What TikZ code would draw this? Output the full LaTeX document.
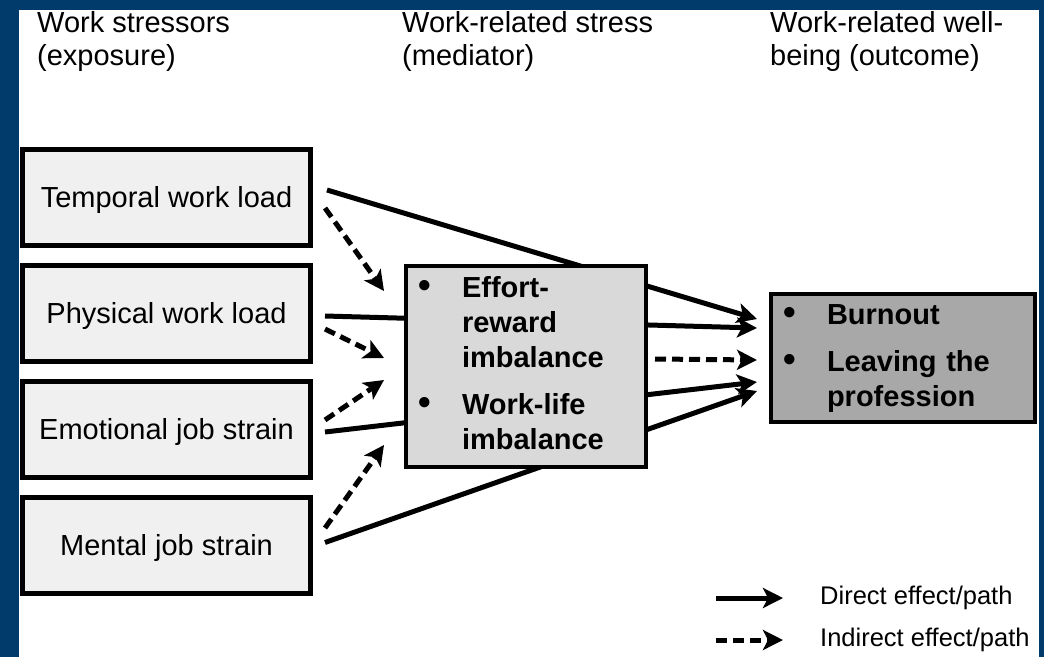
\documentclass[tikz,border=0pt]{standalone}
\usepackage{fontspec}
\setmainfont{Liberation Sans}
\usetikzlibrary{arrows.meta,positioning,calc}

\definecolor{framecolor}{rgb}{0.003922, 0.231373, 0.419608}
\definecolor{inputfill}{rgb}{0.941176, 0.941176, 0.941176}
\definecolor{stressfill}{rgb}{0.850980, 0.850980, 0.850980}
\definecolor{outcomefill}{rgb}{0.658824, 0.658824, 0.658824}

\tikzset{
  every node/.style={font=\fontsize{29}{33}\selectfont},
  heading/.style={anchor=north west, align=left, inner sep=0pt},
  stressor/.style={draw=black, fill=inputfill, line width=5pt,
    minimum width=288pt, minimum height=96pt, inner sep=0pt,
    text height=21pt, text depth=0pt},
  listbox/.style={draw=black, line width=4pt, inner xsep=12pt, inner ysep=0pt,
    align=left, font=\fontsize{29}{35}\selectfont\bfseries},
  direct/.style={line width=5pt, -{Stealth[length=20pt,width=20pt,inset=5pt]}},
  indirect/.style={direct, dash pattern=on 11pt off 6pt},
  legendtext/.style={anchor=west, inner sep=0pt, font=\fontsize{25.5}{30}\selectfont},
}
\newcommand{\itembullet}{{\fontsize{36}{35}\selectfont\textbullet}}

\begin{document}
\begin{tikzpicture}[x=1pt, y=-1pt]
\useasboundingbox (0,0) rectangle (1044,657);
\fill[framecolor] (0,0) rectangle (1044,657);
\fill[white] (19,10) rectangle (1039,657);

% column headings
\node[heading] (hexpo) at (37,11) {Work stressors\\(exposure)};
\node[heading] (hmedi) at (402,11) {Work-related stress\\(mediator)};
\node[heading] (houtc) at (770,11) {Work-related well-\\being (outcome)};

% exposures
\node[stressor] (temporal) at (166.5,197) {Temporal work load};
\node[stressor, below=15pt of temporal] (physical) {Physical work load};
\node[stressor, below=15pt of physical] (emotional) {Emotional job strain};
\node[stressor, below=15pt of emotional] (mental) {Mental job strain};

% outcome
\node[listbox, fill=outcomefill, text width=240pt, minimum height=128pt] (outcome) at (903,358)
  {\begin{tabular}{@{}p{44pt}@{}l@{}}
   \itembullet & Burnout\\[12pt]
   \itembullet & Leaving the\\
               & profession
   \end{tabular}};

% direct paths, running under the mediator
\draw[direct] ($(temporal.east)+(14,-7)$) -- ($(outcome.west)+(-12,-39)$);
\draw[direct] ($(physical.east)+(12,3)$) -- ($(outcome.west)+(-12,-30)$);
\draw[direct] ($(emotional.east)+(12,3)$) -- ($(outcome.west)+(-12,24)$);
\draw[direct] ($(mental.east)+(12,-2.5)$) -- ($(outcome.west)+(-12,33)$);

% mediator
\node[listbox, fill=stressfill, text width=216pt, minimum height=201pt] (stress) at (526,366)
  {\begin{tabular}{@{}p{44pt}@{}l@{}}
   \itembullet & Effort-\\
               & reward\\
               & imbalance\\[12pt]
   \itembullet & Work-life\\
               & imbalance
   \end{tabular}};

% indirect paths
\draw[indirect] ($(temporal.east)+(12,11)$) -- ($(stress.west)+(-20,-75)$);
\draw[indirect] ($(physical.east)+(12,16)$) -- ($(stress.west)+(-20,-8)$);
\draw[indirect] ($(emotional.east)+(12,-9)$) -- ($(stress.west)+(-20,14)$);
\draw[indirect] ($(mental.east)+(12,-17)$) -- ($(stress.west)+(-20,79)$);
\draw[indirect] ($(stress.east)+(7,-7)$) -- ($(outcome.west)+(-12,2)$);

% legend
\coordinate (ldirA) at (716,598);
\coordinate (ldirB) at (783,598);
\coordinate (lindA) at (716,640);
\coordinate (lindB) at (783,640);
\draw[direct] (ldirA) -- (ldirB);
\draw[indirect] (lindA) -- (lindB);
\node[legendtext] (ldirect) at (820,598) {Direct effect/path};
\node[legendtext] (lindirect) at (820,640) {Indirect effect/path};
\end{tikzpicture}
\end{document}
